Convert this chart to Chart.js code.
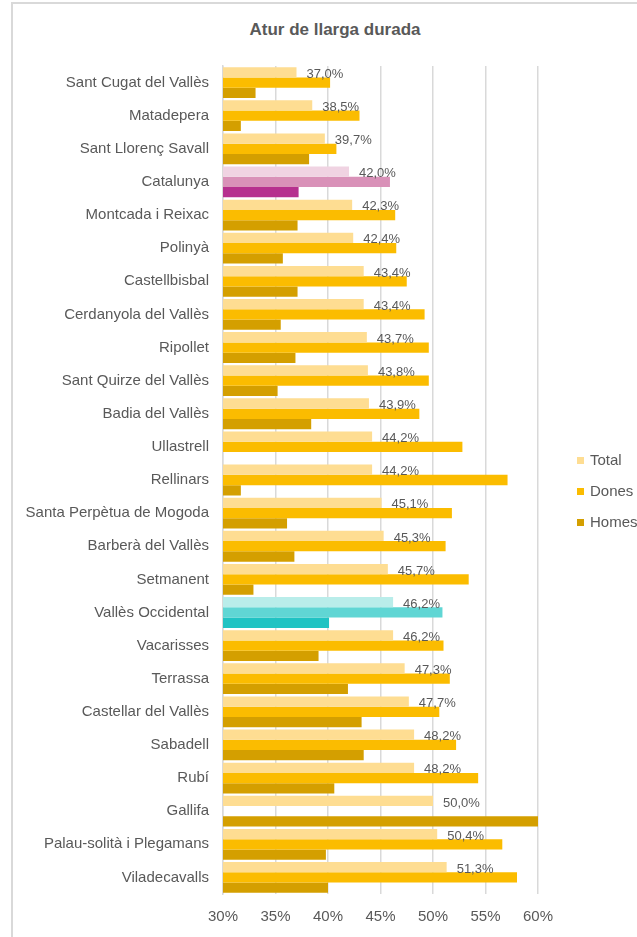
<!DOCTYPE html>
<html>
<head>
<meta charset="utf-8">
<script src="https://cdn.jsdelivr.net/npm/chart.js@4"></script>
<style>
  html, body { margin: 0; padding: 0; background: #fff; overflow: hidden; }
  #wrap { position: relative; width: 637px; height: 937px; overflow: hidden; }
  #frame { position: absolute; left: 11px; top: 2px; width: 700px; height: 1000px;
           border-top: 2px solid #d9d9d9; border-left: 2px solid #d9d9d9; }
  #titol { position: absolute; left: 235px; width: 200px; top: 20px; text-align: center;
           font: bold 17px "Liberation Sans", Arial, sans-serif; color: #595959; }
  #holder { position: absolute; left: 0; top: 0; width: 637px; height: 937px; }
</style>
</head>
<body>
<div id="wrap">
  <div id="frame"></div>
  <div id="titol">Atur de llarga durada</div>
  <div id="holder"><canvas id="graf"></canvas></div>
</div>
<script>
const categories = ['Sant Cugat del Vallès', 'Matadepera', 'Sant Llorenç Savall', 'Catalunya',
  'Montcada i Reixac', 'Polinyà', 'Castellbisbal', 'Cerdanyola del Vallès', 'Ripollet',
  'Sant Quirze del Vallès', 'Badia del Vallès', 'Ullastrell', 'Rellinars',
  'Santa Perpètua de Mogoda', 'Barberà del Vallès', 'Setmanent', 'Vallès Occidental',
  'Vacarisses', 'Terrassa', 'Castellar del Vallès', 'Sabadell', 'Rubí', 'Gallifa',
  'Palau-solità i Plegamans', 'Viladecavalls'];

const total = [37.0, 38.5, 39.7, 42.0, 42.3, 42.4, 43.4, 43.4, 43.7, 43.8, 43.9, 44.2, 44.2,
  45.1, 45.3, 45.7, 46.2, 46.2, 47.3, 47.7, 48.2, 48.2, 50.0, 50.4, 51.3];
const dones = [40.2, 43.0, 40.8, 45.9, 46.4, 46.5, 47.5, 49.2, 49.6, 49.6, 48.7, 52.8, 57.1,
  51.8, 51.2, 53.4, 50.9, 51.0, 51.6, 50.6, 52.2, 54.3, null, 56.6, 58.0];
const homes = [33.1, 31.7, 38.2, 37.2, 37.1, 35.7, 37.1, 35.5, 36.9, 35.2, 38.4, null, 31.7,
  36.1, 36.8, 32.9, 40.1, 39.1, 41.9, 43.2, 43.4, 40.6, 60.0, 39.8, 40.0];

const xTicks = [30, 35, 40, 45, 50, 55, 60];

// colors: normal / Catalunya / Vallès Occidental
const colTotal = { normal: '#fedd92', cat: '#f0d3e2', vo: '#b9edea' };
const colDones = { normal: '#fbbc00', cat: '#d991b8', vo: '#60d6d4' };
const colHomes = { normal: '#d49f00', cat: '#b6308e', vo: '#20c3c3' };

function colors(c) {
  return categories.map(nom => {
    if (nom === 'Catalunya') return c.cat;
    if (nom === 'Vallès Occidental') return c.vo;
    return c.normal;
  });
}

const fontName = '"Liberation Sans", Arial, sans-serif';
Chart.defaults.font.family = fontName;
Chart.defaults.color = '#595959';

// etiquetes del total
const etiquetes = {
  id: 'etiquetes',
  afterDatasetsDraw(chart) {
    const ctx = chart.ctx;
    const meta = chart.getDatasetMeta(0);
    ctx.save();
    ctx.font = '13px ' + fontName;
    ctx.fillStyle = '#595959';
    ctx.textAlign = 'left';
    ctx.textBaseline = 'middle';
    meta.data.forEach((bar, i) => {
      const txt = total[i].toFixed(1).replace('.', ',') + '%';
      ctx.fillText(txt, bar.x + 10, bar.y + 2);
    });
    ctx.restore();
  }
};

// llegenda a la dreta
const llegenda = {
  id: 'llegenda',
  afterDraw(chart) {
    const ctx = chart.ctx;
    const x = chart.chartArea.right + 39;
    let y = 461;
    ctx.save();
    ctx.font = '15px ' + fontName;
    ctx.textAlign = 'left';
    ctx.textBaseline = 'middle';
    chart.data.datasets.forEach(ds => {
      ctx.fillStyle = ds.backgroundColor[0];
      ctx.fillRect(x, y - 4, 7, 7);
      ctx.fillStyle = '#595959';
      ctx.fillText(ds.label, x + 13, y);
      y += 31;
    });
    ctx.restore();
  }
};

new Chart(document.getElementById('graf'), {
  type: 'bar',
  data: {
    labels: categories,
    datasets: [
      { label: 'Total', data: total, backgroundColor: colors(colTotal) },
      { label: 'Dones', data: dones, backgroundColor: colors(colDones) },
      { label: 'Homes', data: homes, backgroundColor: colors(colHomes) }
    ]
  },
  options: {
    indexAxis: 'y',
    responsive: true,
    maintainAspectRatio: false,
    animation: false,
    datasets: {
      bar: { categoryPercentage: 0.93, barPercentage: 1.0 }
    },
    layout: { padding: { top: 66, left: 10, right: 99, bottom: 0 } },
    scales: {
      x: {
        min: 30,
        max: 60,
        afterBuildTicks: (scale) => { scale.ticks = xTicks.map(v => ({ value: v })); },
        afterFit: (scale) => { scale.height = 43; },
        grid: { color: '#d9d9d9', lineWidth: 1.5, drawTicks: false },
        border: { display: false },
        ticks: { padding: 14, font: { size: 15 }, callback: v => v + '%' }
      },
      y: {
        afterFit: (scale) => { scale.width = 213; },
        grid: { display: false, drawTicks: false },
        border: { display: true, color: '#d9d9d9', width: 1.5 },
        ticks: { padding: 14, font: { size: 15 }, autoSkip: false }
      }
    },
    plugins: {
      legend: { display: false },
      tooltip: { enabled: false }
    }
  },
  plugins: [etiquetes, llegenda]
});
</script>
</body>
</html>
